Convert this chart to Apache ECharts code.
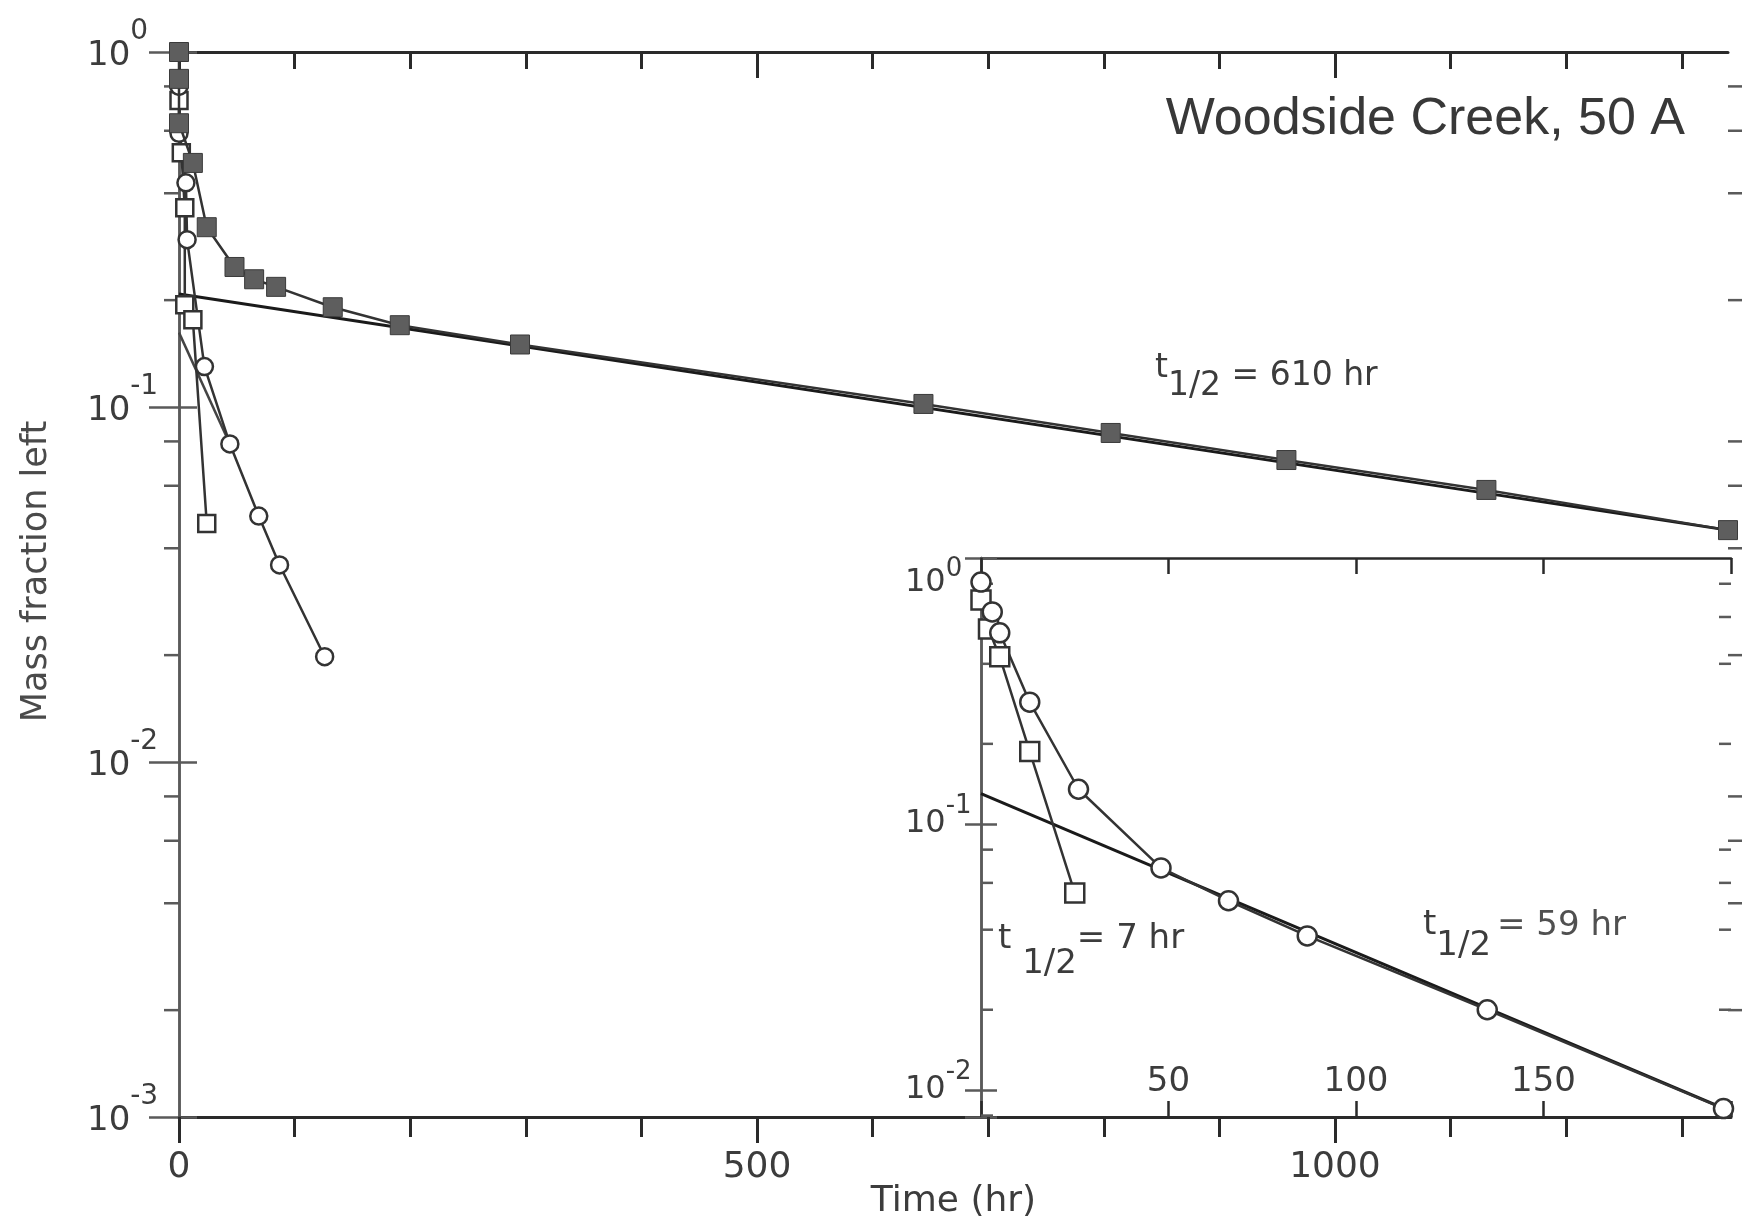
<!DOCTYPE html>
<html>
<head>
<meta charset="utf-8">
<title>Woodside Creek, 50 A</title>
<script src="https://cdn.jsdelivr.net/npm/echarts@6/dist/echarts.min.js"></script>
<style>
html, body { margin: 0; padding: 0; background: #fff; }
#main { width: 1753px; height: 1221px; }
</style>
</head>
<body>
<div id="main"></div>
<script>
// main plot: time (hr) and mass fraction left
let filledT = [0, 0, 0, 12, 24, 48, 65, 84, 133, 191, 295, 644, 806, 958, 1131, 1340];
let filledV = [1.0, 0.84, 0.63, 0.487, 0.321, 0.248, 0.229, 0.218, 0.191, 0.170, 0.150, 0.102, 0.0845, 0.0709, 0.0584, 0.045];
let openSqT = [0, 2, 5, 5, 12, 24];
let openSqV = [0.73, 0.52, 0.364, 0.194, 0.176, 0.047];
let openCircT = [0, 0, 6, 7, 22, 44, 69, 87, 126];
let openCircV = [0.80, 0.59, 0.428, 0.296, 0.130, 0.0787, 0.0493, 0.0359, 0.0198];
let fit610T = [0, 1340];
let fit610V = [0.208, 0.045];
let fitCircT = [0, 44];
let fitCircV = [0.162, 0.0787];

// inset: first 200 hr
let inSqT = [0, 2, 5, 13, 25];
let inSqV = [0.695, 0.541, 0.425, 0.187, 0.055];
let inCircT = [0, 3, 5, 13, 26, 48, 66, 87, 135, 198];
let inCircV = [0.812, 0.627, 0.523, 0.287, 0.135, 0.0683, 0.0514, 0.0379, 0.0200, 0.0085];
let fit59T = [0, 200];
let fit59V = [0.130, 0.0083];

// axis ticks
let mainXTicks = [0, 500, 1000];
let insetXLabels = [50, 100, 150];
let mainMinor = [0.8, 0.6, 0.4, 0.2, 0.08, 0.06, 0.04, 0.02, 0.008, 0.006, 0.004, 0.002];
let insetMinor = [0.8, 0.6, 0.4, 0.2, 0.08, 0.06, 0.04, 0.02, 0.008];

const FONT = 'DejaVu Sans';
const TXT = '#3c3c3c';
const AX = '#2a2a2a';
const AXL = '#5a5a5a';

function pairs(t, v) {
	return t.map(function (x, i) { return [x, v[i]]; });
}

// "10" with the exponent raised; the top label of the inset sits lower
function powLabel(v) {
	let e = Math.round(Math.log10(v));
	if (Math.abs(v / Math.pow(10, e) - 1) > 1e-6) return '';
	return '{b|10}{e|' + e + '}';
}
function insetPowLabel(v) {
	let s = powLabel(v);
	if (s && Math.round(Math.log10(v)) === 0) return '{b0|10}{e0|0}';
	return s;
}

// log minor ticks (2,4,6,8 per decade) drawn as short lines
function minorTicks(xi, yi, xAt, vals, len) {
	return {
		type: 'custom',
		xAxisIndex: xi,
		yAxisIndex: yi,
		clip: false,
		silent: true,
		z: 1,
		data: vals.map(function (v) { return [xAt, v]; }),
		renderItem: function (params, api) {
			let p = api.coord([api.value(0), api.value(1)]);
			return {
				type: 'line',
				shape: { x1: p[0], y1: p[1], x2: p[0] + len, y2: p[1] },
				style: { stroke: AXL, lineWidth: 2.5 }
			};
		}
	};
}

function openStyle(sym, size) {
	return {
		symbol: sym,
		symbolSize: size,
		itemStyle: { color: '#fff', borderColor: '#333', borderWidth: 2.5 },
		lineStyle: { color: '#333', width: 2.5 }
	};
}

function tok(size, pad, color) {
	return { fontFamily: FONT, fontSize: size, lineHeight: 72, color: color || TXT, fill: color || TXT, verticalAlign: 'top', padding: pad };
}

let chart = echarts.init(document.getElementById('main'));

let mainRich = {
	b: tok(34, [23, 0, 15, 0]),
	e: tok(28, [2, 0, 42, 0])
};
let insetRich = {
	b: tok(32, [20, 0, 20, 0]),
	e: tok(26, [5, 0, 41, 0]),
	b0: tok(32, [45, 0, 0, 0]),
	e0: tok(26, [34, 0, 0, 0])
};

function tLabel(left, top, text, pads, size, restColor) {
	let st = function (p, c) {
		return { fontFamily: FONT, fontSize: size, lineHeight: 33, verticalAlign: 'top', padding: p, fill: c || TXT };
	};
	return {
		type: 'text', left: left, top: top,
		style: {
			text: text, fill: TXT,
			rich: { t: st(pads[0]), s: st(pads[1]), r: st(pads[2], restColor) }
		}
	};
}

let option = {
	animation: false,
	backgroundColor: '#fff',
	grid: [
		{ left: 179, top: 52, width: 1549, height: 1065, outerBoundsMode: 'none', containLabel: false },
		{ left: 981, top: 558, width: 750, height: 559, outerBoundsMode: 'none', containLabel: false }
	],
	xAxis: [
		{
			gridIndex: 0, type: 'value', position: 'bottom', min: 0, max: 1340, interval: 500,
			name: 'Time (hr)', nameLocation: 'middle', nameGap: 67, nameMoveOverlap: false,
			nameTextStyle: { fontFamily: FONT, fontSize: 36, color: TXT },
			axisLine: { lineStyle: { color: AX, width: 3 } },
			axisTick: { length: 26, customValues: mainXTicks, lineStyle: { color: AX, width: 3 } },
			minorTick: { show: true, splitNumber: 5, length: 20, lineStyle: { color: AX, width: 3 } },
			axisLabel: {
				margin: 33, fontFamily: FONT, fontSize: 36, color: TXT,
				formatter: function (v) { return mainXTicks.indexOf(v) >= 0 ? String(v) : ''; }
			},
			splitLine: { show: false }
		},
		{
			gridIndex: 0, type: 'value', position: 'top', min: 0, max: 1340, interval: 500,
			axisLine: { lineStyle: { color: AX, width: 3 } },
			axisTick: { inside: true, length: 26, customValues: mainXTicks, lineStyle: { color: AX, width: 3 } },
			minorTick: { show: true, splitNumber: 5, length: 17, lineStyle: { color: AX, width: 3 } },
			axisLabel: { show: false },
			splitLine: { show: false }
		},
		{
			gridIndex: 1, type: 'value', position: 'bottom', min: 0, max: 200, interval: 50,
			axisLine: { lineStyle: { color: AX, width: 3 } },
			axisTick: { inside: true, length: 16, lineStyle: { color: AX, width: 2.5 } },
			axisLabel: {
				inside: true, margin: 18, fontFamily: FONT, fontSize: 34, color: TXT,
				formatter: function (v) { return insetXLabels.indexOf(v) >= 0 ? String(v) : ''; }
			},
			splitLine: { show: false }
		},
		{
			gridIndex: 1, type: 'value', position: 'top', min: 0, max: 200, interval: 50,
			axisLine: { lineStyle: { color: AX, width: 2.5 } },
			axisTick: { inside: true, length: 16, lineStyle: { color: AX, width: 2.5 } },
			axisLabel: { show: false },
			splitLine: { show: false }
		}
	],
	yAxis: [
		{
			gridIndex: 0, type: 'log', logBase: 10, position: 'left', min: 0.001, max: 1,
			name: 'Mass fraction left', nameLocation: 'middle', nameGap: 125, nameRotate: 90, nameMoveOverlap: false,
			nameTextStyle: { fontFamily: FONT, fontSize: 35, color: '#4a4a4a', padding: [0, 0, 0, 26] },
			axisLine: { lineStyle: { color: AXL, width: 2.5 } },
			axisTick: { length: 30, lineStyle: { color: AXL, width: 2.5 } },
			axisLabel: { align: 'left', margin: 92, formatter: powLabel, rich: mainRich },
			splitLine: { show: false }
		},
		{
			gridIndex: 0, type: 'log', logBase: 10, position: 'right', min: 0.001, max: 1,
			axisLine: { lineStyle: { color: AXL, width: 2.5 } },
			axisTick: { length: 18, lineStyle: { color: AXL, width: 2.5 } },
			axisLabel: { show: false },
			splitLine: { show: false }
		},
		{
			gridIndex: 1, type: 'log', logBase: 10, position: 'left', min: 0.0079, max: 1,
			axisLine: { lineStyle: { color: AXL, width: 2.5 } },
			axisTick: { inside: true, length: 16, lineStyle: { color: AXL, width: 2.5 } },
			axisLabel: { align: 'left', margin: 76, formatter: insetPowLabel, rich: insetRich },
			splitLine: { show: false }
		},
		{
			gridIndex: 1, type: 'log', logBase: 10, position: 'right', min: 0.0079, max: 1,
			axisLine: { lineStyle: { color: AXL, width: 2.5 } },
			axisTick: { inside: true, length: 16, lineStyle: { color: AXL, width: 2.5 } },
			axisLabel: { show: false },
			splitLine: { show: false }
		}
	],
	graphic: [
		{
			type: 'text', right: 68, top: 94,
			style: { text: 'Woodside Creek, 50 A', fontFamily: 'Liberation Sans', fontSize: 52, fill: '#383838' }
		},
		tLabel(1155, 346, '{t|t}{s|1/2}{r| = 610 hr}', [[6, 0, 21, 0], [24, 0, 3, 0], [14, 0, 13, 0]], 33),
		tLabel(998, 912, '{t|t }{s|1/2}{r|= 7 hr}', [[10, 0, 27, 0], [35, 0, 2, 0], [10, 0, 27, 0]], 34),
		tLabel(1423, 897, '{t|t}{s|1/2}{r|= 59 hr}', [[11, 0, 26, 0], [32, 0, 5, 0], [12, 0, 25, 6]], 34, '#505050')
	],
	series: [
		{
			type: 'line', xAxisIndex: 0, yAxisIndex: 0, data: pairs(fit610T, fit610V),
			showSymbol: false, clip: false, z: 2, lineStyle: { color: '#1a1a1a', width: 3 }
		},
		{
			type: 'line', xAxisIndex: 0, yAxisIndex: 0, data: pairs(fitCircT, fitCircV),
			showSymbol: false, clip: false, z: 2, lineStyle: { color: '#444', width: 2.5 }
		},
		Object.assign({
			type: 'line', xAxisIndex: 0, yAxisIndex: 0, data: pairs(openSqT, openSqV),
			showSymbol: true, showAllSymbol: true, clip: false, z: 3
		}, openStyle('rect', 17)),
		Object.assign({
			type: 'line', xAxisIndex: 0, yAxisIndex: 0, data: pairs(openCircT, openCircV),
			showSymbol: true, showAllSymbol: true, clip: false, z: 3
		}, openStyle('circle', 17)),
		{
			type: 'line', xAxisIndex: 0, yAxisIndex: 0, data: pairs(filledT, filledV),
			showSymbol: true, showAllSymbol: true, clip: false, z: 4,
			symbol: 'rect', symbolSize: 19,
			itemStyle: { color: '#5e5e5e', borderColor: '#3a3a3a', borderWidth: 1 },
			lineStyle: { color: '#333', width: 2.5 }
		},
		{
			type: 'line', xAxisIndex: 2, yAxisIndex: 2, data: pairs(fit59T, fit59V),
			showSymbol: false, clip: false, z: 2, lineStyle: { color: '#1a1a1a', width: 3 }
		},
		Object.assign({
			type: 'line', xAxisIndex: 2, yAxisIndex: 2, data: pairs(inSqT, inSqV),
			showSymbol: true, showAllSymbol: true, clip: false, z: 3
		}, openStyle('rect', 19)),
		Object.assign({
			type: 'line', xAxisIndex: 2, yAxisIndex: 2, data: pairs(inCircT, inCircV),
			showSymbol: true, showAllSymbol: true, clip: false, z: 3
		}, openStyle('circle', 19)),
		minorTicks(0, 0, 0, mainMinor, -15),
		minorTicks(0, 1, 1340, mainMinor, 14),
		minorTicks(2, 2, 0, insetMinor, 12),
		minorTicks(2, 3, 200, insetMinor, -12)
	]
};

chart.setOption(option);
</script>
</body>
</html>
